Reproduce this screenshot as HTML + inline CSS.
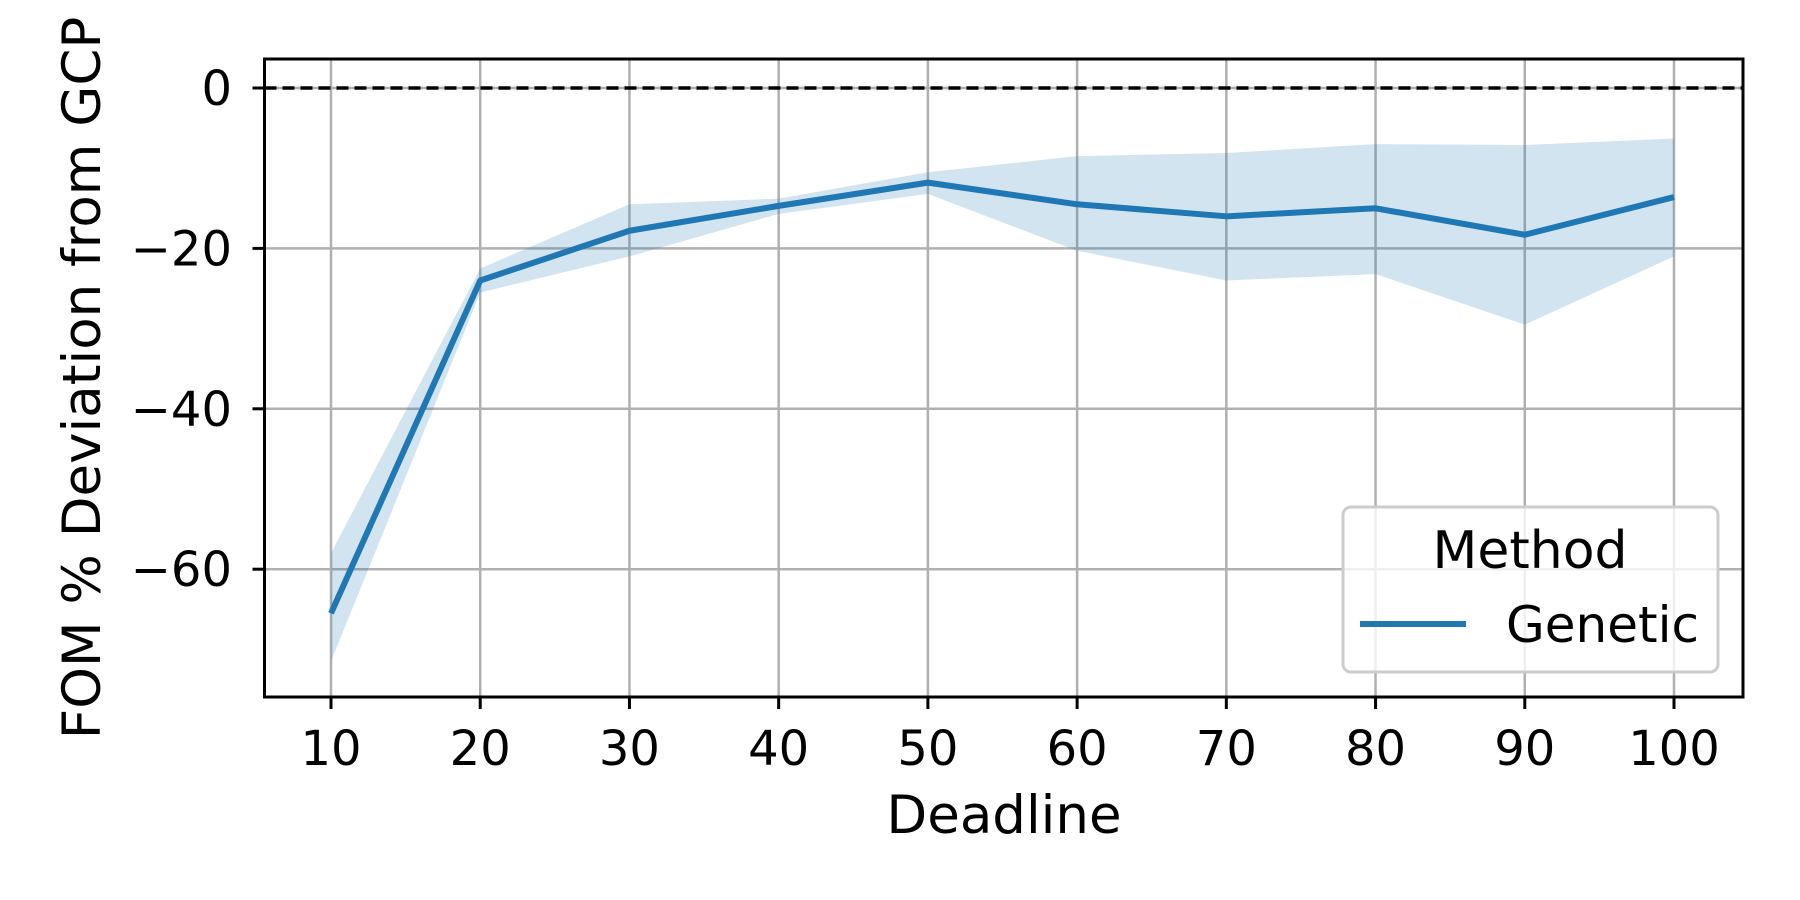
<!DOCTYPE html>
<html><head><meta charset="utf-8"><style>
html,body{margin:0;padding:0;background:#fff;}
svg{display:block;font-family:"DejaVu Sans","Liberation Sans",sans-serif;}
</style></head><body>
<svg id="chart" width="1800" height="900" viewBox="0 0 1800 900">
<rect width="1800" height="900" fill="#fff"/>
<g id="grid"></g>
<g id="marks"></g>
<rect x="264.5" y="59" width="1478.5" height="638" fill="none" stroke="#000" stroke-width="3"/>
<g id="ticks"></g>
<text x="1004" y="833" font-size="53" text-anchor="middle">Deadline</text>
<text transform="translate(100,378) rotate(-90)" font-size="53" text-anchor="middle">FOM % Deviation from GCP</text>
<g>
<rect x="1343" y="507" width="375" height="165" rx="8" fill="#fff" fill-opacity="0.8" stroke="#ccc" stroke-width="3"/>
<text x="1530" y="568" font-size="52" text-anchor="middle">Method</text>
<line x1="1360" y1="624" x2="1466" y2="624" stroke="#1f77b4" stroke-width="6"/>
<text x="1506" y="642" font-size="50">Genetic</text>
</g>
</svg>
<script>
const deadlines = [10,20,30,40,50,60,70,80,90,100];
const meanValues = [-65.5,-24,-17.8,-14.7,-11.8,-14.5,-16,-15,-18.3,-13.6];
const upperValues = [-58,-22.5,-14.5,-13.8,-10.5,-8.5,-8.1,-7,-7.1,-6.3];
const lowerValues = [-71.5,-25.5,-21,-15.7,-13.2,-20.3,-24,-23.2,-29.5,-21];
const xTicks = [10,20,30,40,50,60,70,80,90,100];
const yTicks = [0,-20,-40,-60];
const NS='http://www.w3.org/2000/svg';
const X0=264.5,X1=1743,Y0=59,Y1=697;
function xs(v){return 331+(v-10)*(1674-331)/90;}
function ys(v){return 88+(0-v)*8.02;}
function mk(tag,attrs,parent){const e=document.createElementNS(NS,tag);for(const k in attrs)e.setAttribute(k,attrs[k]);parent.appendChild(e);return e;}
const grid=document.getElementById('grid'),marks=document.getElementById('marks'),ticks=document.getElementById('ticks');
xTicks.forEach(t=>{
  const g=mk('line',{x1:xs(t),x2:xs(t),y1:Y0,y2:Y1,stroke:'#b0b0b0','stroke-width':2.5},grid);
  
  
  const tk=mk('line',{x1:xs(t),x2:xs(t),y1:Y1,y2:Y1+12,stroke:'#000','stroke-width':3},ticks);
  
  
  const tl=mk('text',{x:xs(t),y:765,'font-size':48,'text-anchor':'middle'},ticks);
  tl.textContent=t;
  
  
});
yTicks.forEach(t=>{
  const g=mk('line',{x1:X0,x2:X1,y1:ys(t),y2:ys(t),stroke:'#b0b0b0','stroke-width':2.5},grid);
  
  
  const tk=mk('line',{x1:X0-12,x2:X0,y1:ys(t),y2:ys(t),stroke:'#000','stroke-width':3},ticks);
  
  
  const tl=mk('text',{x:232,y:ys(t)+17,'font-size':48,'text-anchor':'end'},ticks);
  tl.textContent=(t<0?'\u2212'+Math.abs(t):String(t));
  
  
});
let d='';
deadlines.forEach((v,i)=>{d+=(i?'L':'M')+xs(v)+','+ys(upperValues[i]);});
for(let i=deadlines.length-1;i>=0;i--)d+='L'+xs(deadlines[i])+','+ys(lowerValues[i]);
const band=mk('path',{d:d+'Z',fill:'#1f77b4','fill-opacity':0.2,stroke:'none'},marks);


const zl=mk('line',{x1:X0,x2:X1,y1:ys(0),y2:ys(0),stroke:'#000','stroke-width':3.5,'stroke-dasharray':'12,6'},marks);


const line=mk('polyline',{points:deadlines.map((v,i)=>xs(v)+','+ys(meanValues[i])).join(' '),fill:'none',stroke:'#1f77b4','stroke-width':6,'stroke-linejoin':'round'},marks);


</script>
</body></html>
